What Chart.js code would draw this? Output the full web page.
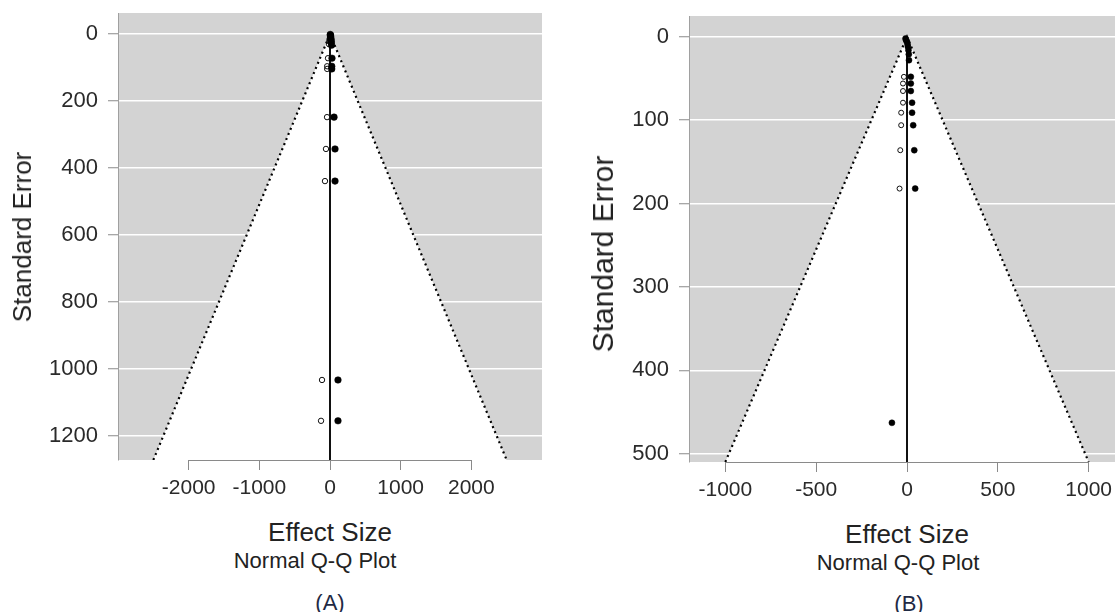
<!DOCTYPE html>
<html>
<head>
<meta charset="utf-8">
<script src="https://cdn.jsdelivr.net/npm/chart.js@4.4.1/dist/chart.umd.min.js"></script>
<style>
  html, body { margin: 0; padding: 0; background: #fff; width: 1115px; height: 612px; overflow: hidden; }
  body { position: relative; font-family: "Liberation Sans", Arial, sans-serif; color: #222; }
  .cv { position: absolute; top: 0; }
  .lbl { position: absolute; white-space: nowrap; transform: translate(-50%, -50%); line-height: 1; }
  .ytitle { position: absolute; white-space: nowrap; transform: translate(-50%, -50%) rotate(-90deg); line-height: 1; }
</style>
</head>
<body>
<canvas id="cA" class="cv" style="left:0px;" width="560" height="500"></canvas>
<canvas id="cB" class="cv" style="left:560px;" width="580" height="500"></canvas>

<div class="ytitle" style="left:22px; top:237px; font-size:26px;">Standard Error</div>
<div class="ytitle" style="left:603px; top:254px; font-size:30px;">Standard Error</div>

<div class="lbl" style="left:330px; top:532px; font-size:26px;">Effect Size</div>
<div class="lbl" style="left:315px; top:561px; font-size:22px;">Normal Q-Q Plot</div>
<div class="lbl" style="left:330px; top:603px; font-size:22px; color:#1f2a44;">(A)</div>

<div class="lbl" style="left:907px; top:534px; font-size:26px;">Effect Size</div>
<div class="lbl" style="left:898px; top:563px; font-size:22px;">Normal Q-Q Plot</div>
<div class="lbl" style="left:909px; top:604px; font-size:22px; color:#1f2a44;">(B)</div>

<script>
// ---------------- Panel A data ----------------
const xTicksA = [-2000, -1000, 0, 1000, 2000];
const yTicksA = [0, 200, 400, 600, 800, 1000, 1200];
const xRangeA = [-3000, 3000];
const yRangeA = [-63, 1272];
const funnelXA = [-2500, 0, 2500];
const funnelSEA = [1272, 0, 1272];
const centerXA = [0, 0];
const centerSEA = [0, 1272];
// observed studies (filled)
const obsXA  = [4, 6, 8, 10, 12, 14, 16, 18, 22, 28, 25, 25, 57, 71, 71, 113, 113];
const obsSEA = [1, 3, 6, 9, 13, 17, 21, 26, 33, 72, 96, 104, 248, 343, 439, 1033, 1155];
// imputed studies (open)
const impXA  = [-6, -10, -14, -28, -40, -40, -42, -57, -71, -113, -127];
const impSEA = [15, 22, 30, 72, 96, 104, 248, 343, 439, 1033, 1155];

// ---------------- Panel B data ----------------
const xTicksB = [-1000, -500, 0, 500, 1000];
const yTicksB = [0, 100, 200, 300, 400, 500];
const xRangeB = [-1200, 1200];
const yRangeB = [-25, 510];
const funnelXB = [-1000, 0, 1000];
const funnelSEB = [510, 0, 510];
const centerXB = [0, 0];
const centerSEB = [0, 510];
const obsXB  = [-8, -5, 0, 3, 5, 8, 10, 11, 21, 21, 21, 28, 28, 34, 40, 45, -83];
const obsSEB = [2, 4, 6, 9, 12, 16, 21, 28, 48, 56, 65, 79, 91, 106, 136, 182, 463];
const impXB  = [-17, -22, -22, -22, -32, -32, -37, -41];
const impSEB = [48, 56, 65, 79, 91, 106, 136, 182];

const pts = (xs, ys) => xs.map((x, i) => ({ x: x, y: ys[i] }));

const bgPlugin = {
  id: 'plotBg',
  beforeDraw(chart) {
    const a = chart.chartArea, c = chart.ctx;
    c.save();
    c.fillStyle = '#d3d3d3';
    c.fillRect(a.left, a.top, a.right - a.left, a.bottom - a.top);
    c.restore();
  }
};
const axisLinePlugin = {
  id: 'axisLine',
  afterDraw(chart) {
    const s = chart.scales.x, c = chart.ctx;
    const t = s.ticks;
    const x0 = s.getPixelForValue(t[0].value), x1 = s.getPixelForValue(t[t.length - 1].value);
    c.save();
    c.strokeStyle = '#8a8a8a';
    c.lineWidth = 1;
    c.beginPath();
    c.moveTo(x0, chart.chartArea.bottom + 0.5);
    c.lineTo(x1, chart.chartArea.bottom + 0.5);
    c.stroke();
    c.restore();
  }
};

function makeChart(id, cfg) {
  return new Chart(document.getElementById(id), {
    type: 'scatter',
    data: {
      datasets: [
        { label: 'funnel', data: pts(cfg.fx, cfg.fy), showLine: true, fill: 'start',
          backgroundColor: '#ffffff', borderColor: '#000', borderWidth: 2.2, borderDash: [2, 3.5],
          pointRadius: 0, order: 4 },
        { label: 'center', data: pts(cfg.cx, cfg.cy), showLine: true, fill: false,
          borderColor: '#111', borderWidth: 2, pointRadius: 0, order: 3 },
        { label: 'imputed', data: pts(cfg.ix, cfg.iy), showLine: false,
          pointRadius: cfg.rOpen, pointBackgroundColor: 'rgba(255,255,255,0)', pointBorderColor: '#111',
          pointBorderWidth: 1, order: 2 },
        { label: 'observed', data: pts(cfg.ox, cfg.oy), showLine: false,
          pointRadius: cfg.rFill, pointBackgroundColor: '#000', pointBorderColor: '#000',
          pointBorderWidth: 0.5, order: 1 }
      ]
    },
    options: {
      responsive: false,
      animation: false,
      layout: { padding: { left: 0, right: cfg.padRight, top: cfg.padTop, bottom: 0 } },
      plugins: { legend: { display: false }, tooltip: { enabled: false } },
      scales: {
        x: {
          type: 'linear', min: cfg.xr[0], max: cfg.xr[1],
          afterBuildTicks: s => { s.ticks = cfg.xt.map(v => ({ value: v })); },
          afterFit: s => { s.height = cfg.xH; s.paddingLeft = 0; s.paddingRight = 0; },
          grid: { drawOnChartArea: false, tickLength: 10, tickColor: '#8a8a8a', tickWidth: 1 },
          border: { display: false },
          ticks: { color: '#2a2a2a', font: { family: '"Liberation Sans", Arial', size: 21 }, padding: 6,
                   maxRotation: 0, autoSkip: false, callback: v => String(v) }
        },
        y: {
          type: 'linear', reverse: true, min: cfg.yr[0], max: cfg.yr[1],
          afterBuildTicks: s => { s.ticks = cfg.yt.map(v => ({ value: v })); },
          afterFit: s => { s.width = cfg.yW; s.paddingTop = 0; s.paddingBottom = 0; },
          grid: { color: '#ffffff', lineWidth: 1.5, tickLength: 10, tickColor: '#8a8a8a', tickWidth: 1 },
          border: { display: true, color: '#a0a0a0', width: 1 },
          ticks: { color: '#2a2a2a', font: { family: '"Liberation Sans", Arial', size: 22 }, padding: 10,
                   autoSkip: false, callback: v => String(v) }
        }
      }
    },
    plugins: [bgPlugin, axisLinePlugin]
  });
}

makeChart('cA', {
  fx: funnelXA, fy: funnelSEA, cx: centerXA, cy: centerSEA,
  ox: obsXA, oy: obsSEA, ix: impXA, iy: impSEA,
  xr: xRangeA, yr: yRangeA, xt: xTicksA, yt: yTicksA,
  padRight: 18, padTop: 13, xH: 40, yW: 118, rFill: 3.3, rOpen: 2.7
});
makeChart('cB', {
  fx: funnelXB, fy: funnelSEB, cx: centerXB, cy: centerSEB,
  ox: obsXB, oy: obsSEB, ix: impXB, iy: impSEB,
  xr: xRangeB, yr: yRangeB, xt: xTicksB, yt: yTicksB,
  padRight: 15, padTop: 16, xH: 38, yW: 129, rFill: 3, rOpen: 2.5
});
</script>
</body>
</html>
